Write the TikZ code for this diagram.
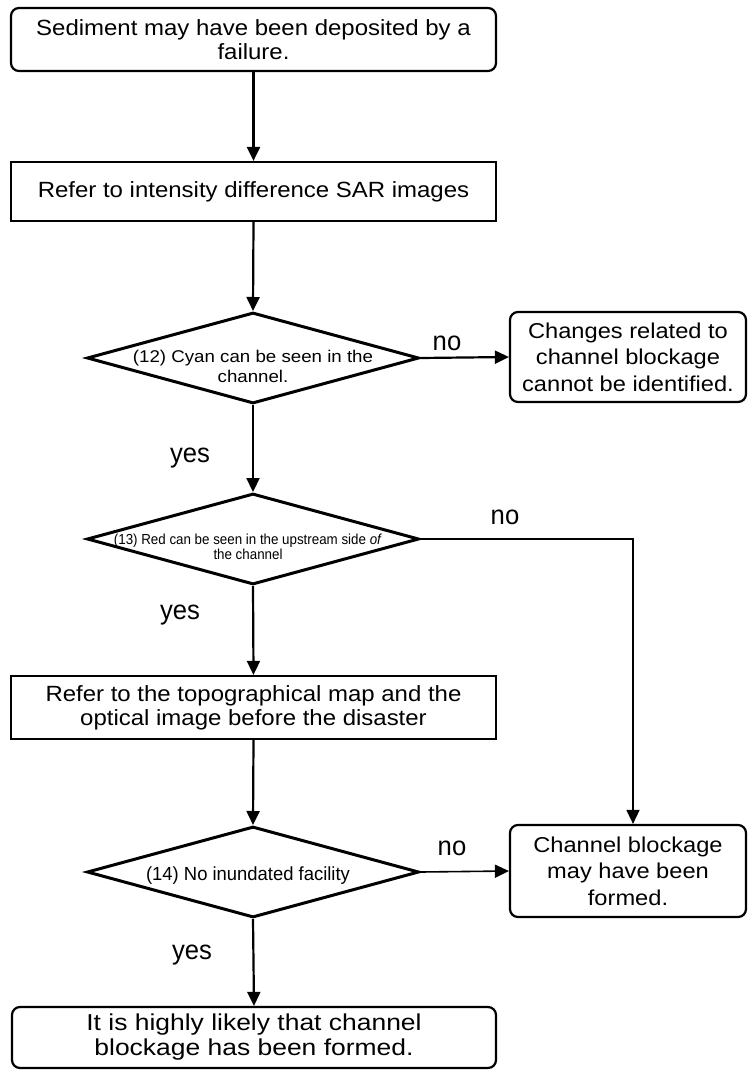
\documentclass[tikz,border=0pt]{standalone}
\usepackage{fontspec}
\setmainfont{Liberation Sans}
\newfontfamily\fntBox[FakeStretch=1.09]{Liberation Sans}
\newfontfamily\fntRight[FakeStretch=1.1]{Liberation Sans}
\newfontfamily\fntLast[FakeStretch=1.15]{Liberation Sans}
\newfontfamily\fntDa[FakeStretch=1.1]{Liberation Sans}
\newfontfamily\fntDb[FakeStretch=0.92]{Liberation Sans}
\newfontfamily\fntDc[FakeStretch=0.97]{Liberation Sans}
\newfontfamily\fntLbl[FakeStretch=0.95]{Liberation Sans}
\usetikzlibrary{shapes.geometric,arrows.meta}
\begin{document}
\begin{tikzpicture}[x=1pt,y=-1pt,
  boxbase/.style={draw,line width=2.2pt,inner sep=0pt,align=center,fill=white},
  rbox/.style={boxbase,rounded corners=8pt},
  sbox/.style={boxbase},
  dia/.style={draw,diamond,line width=3pt,inner sep=0pt,minimum width=332pt,minimum height=91pt},
  dtext/.style={inner sep=0pt,align=center},
  lbl/.style={inner sep=0pt,font={\fntLbl\fontsize{27}{30}\selectfont}},
  arr/.style={line width=2.2pt,-{Triangle[length=14pt,width=13pt]}},
  thinarr/.style={line width=1.6pt,-{Triangle[length=14pt,width=13pt]}},
  mainfont/.style={font={\fntBox\fontsize{22}{24}\selectfont}},
  rightfont/.style={font={\fntRight\fontsize{21.5}{26.5}\selectfont}}
]
\useasboundingbox (0,0) rectangle (747,1070);

% boxes
\node[rbox,mainfont,minimum width=485pt,minimum height=63pt] (b1) at (253.5,39.5)
  {Sediment may have been deposited by a\\failure.};
\node[sbox,mainfont,minimum width=485pt,minimum height=59pt] (b2) at (253.5,191.5)
  {Refer to intensity difference SAR images};
\node[dia] (d1) at (253,358) {};
\node[dtext,font={\fntDa\fontsize{17}{20}\selectfont}] (t1) at (253,366)
  {(12) Cyan can be seen in the\\channel.};
\node[rbox,rightfont,minimum width=236pt,minimum height=90pt] (r1) at (628,357)
  {Changes related to\\channel blockage\\cannot be identified.};
\node[dia] (d2) at (253,539) {};
\node[dtext,font={\fntDb\fontsize{14.5}{15.5}\selectfont}] (t2) at (248,547)
  {(13) Red can be seen in the upstream side \textit{of}\\the channel};
\node[sbox,mainfont,minimum width=485pt,minimum height=63pt] (b3) at (253.5,707.5)
  {Refer to the topographical map and the\\optical image before the disaster};
\node[dia] (d3) at (253,872) {};
\node[dtext,font={\fntDc\fontsize{19}{22}\selectfont}] (t3) at (248,876)
  {(14) No inundated facility};
\node[rbox,rightfont,minimum width=236pt,minimum height=92pt] (r2) at (628,871)
  {Channel blockage\\may have been\\formed.};
\node[rbox,font={\fntLast\fontsize{23}{25}\selectfont},minimum width=484pt,minimum height=61pt] (b4) at (254,1037.5)
  {It is highly likely that channel\\blockage has been formed.};

% connectors
\draw[arr] (b1.south) -- (b2.north);
\draw[arr] (b2.south) -- (d1.north);
\draw[arr] (d1.east) -- (r1.west);
\draw[arr] (d1.south) -- (d2.north);
\draw[thinarr] (d2.east) -| ([xshift=5pt]r2.north);
\draw[arr] (d2.south) -- (b3.north);
\draw[arr] (b3.south) -- (d3.north);
\draw[thinarr] (d3.east) -- (r2.west);
\draw[arr] (d3.south) -- (b4.north);

% labels
\node[lbl] (n1) at (447,343) {no};
\node[lbl] (n2) at (505,517) {no};
\node[lbl] (n3) at (452,848) {no};
\node[lbl] (y1) at (190,458) {yes};
\node[lbl] (y2) at (180,615) {yes};
\node[lbl] (y3) at (192,955) {yes};
\end{tikzpicture}
\end{document}
